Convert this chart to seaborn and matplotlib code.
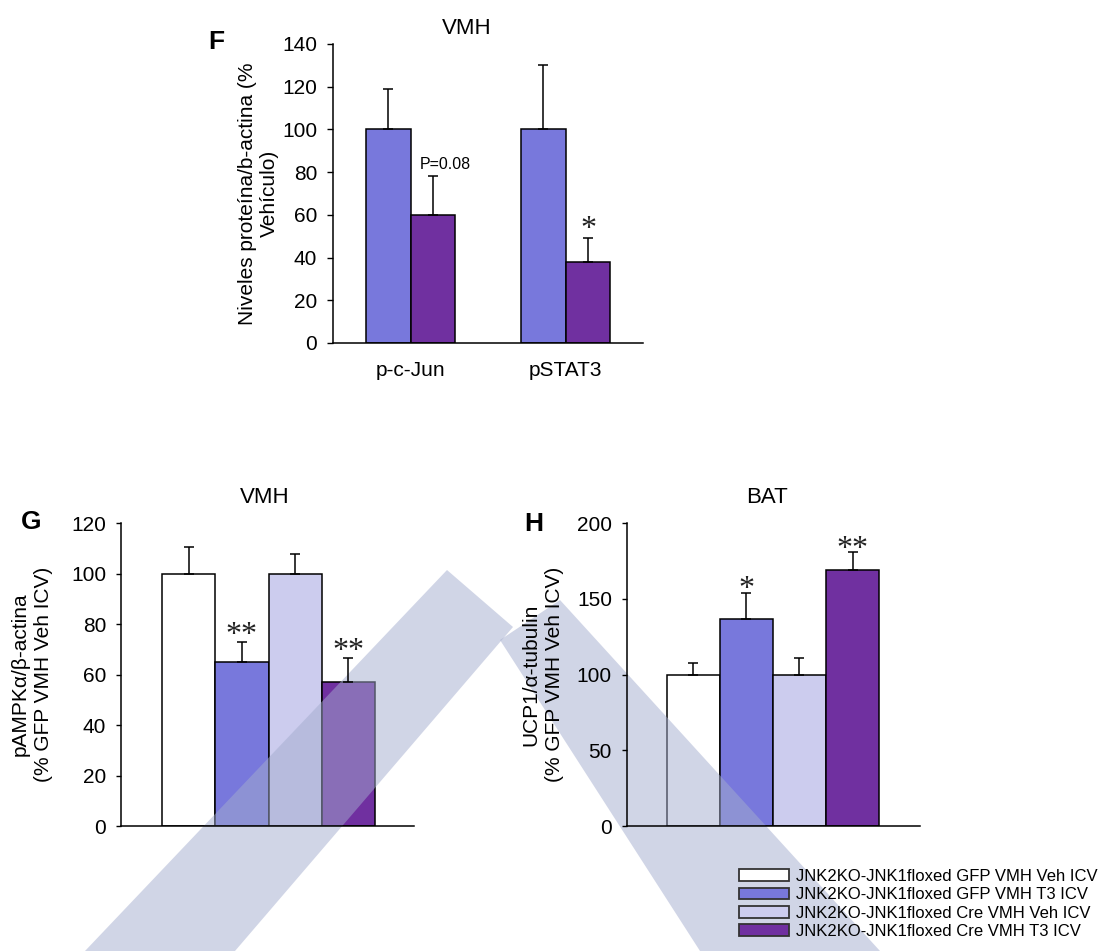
import numpy as np
import pandas as pd
import matplotlib
matplotlib.use("Agg")
import matplotlib.pyplot as plt
import matplotlib.transforms as mtransforms
import seaborn as sns
from matplotlib.patches import Patch, Polygon

sns.set_theme(style="white")
plt.rcParams['font.family'] = ['Liberation Sans', 'DejaVu Sans']
plt.rcParams.update({"text.color": "black", "axes.labelcolor": "black",
                     "xtick.color": "black", "ytick.color": "black",
                     "axes.axisbelow": False})

# ---- data -------------------------------------------------------------
# Panel F: VMH protein levels (% vehicle)
f_targets = ["p-c-Jun", "pSTAT3"]
f_conditions = ["Vehículo", "T3"]
f_veh_mean = [100, 100]
f_veh_err = [19, 30]
f_t3_mean = [60, 38]
f_t3_err = [18, 11]
f_t3_notes = ["P=0.08", "*"]

# Panels G and H: four experimental groups
groups = ["JNK2KO-JNK1floxed GFP VMH Veh ICV",
          "JNK2KO-JNK1floxed GFP VMH T3 ICV",
          "JNK2KO-JNK1floxed Cre VMH Veh ICV",
          "JNK2KO-JNK1floxed Cre VMH T3 ICV"]
g_mean = [100, 65, 100, 57]
g_err = [10.6, 8, 7.8, 9.7]
g_stars = ["", "**", "", "**"]
h_mean = [99.5, 137, 100, 169]
h_err = [8.4, 16.8, 11.2, 11.8]
h_stars = ["", "*", "", "**"]

group_colors = ["#FFFFFF", "#7878DC", "#CCCCEE", "#7030A0"]

# ---- figure -----------------------------------------------------------
W, H = 1104, 951
fig = plt.figure(figsize=(W / 100, H / 100), dpi=100)
px = mtransforms.Affine2D().scale(1 / W, -1 / H).translate(0, 1) + fig.transFigure


def fx(x):
    return x / W


def fy(y):
    return 1 - y / H


def axes_px(left, top, right, bottom):
    return fig.add_axes([fx(left), fy(bottom), (right - left) / W, (bottom - top) / H])


def style_axes(ax, tick_len):
    ax.set_axisbelow(False)
    for side in ("top", "right"):
        ax.spines[side].set_visible(False)
    for side in ("left", "bottom"):
        ax.spines[side].set_color("black")
        ax.spines[side].set_linewidth(1.1)
    ax.tick_params(axis="y", direction="out", length=tick_len, width=1.0,
                   color="black", labelsize=15, pad=7, left=True)
    ax.tick_params(axis="x", length=0, labelsize=15, pad=13)
    ax.set_xlabel("")
    ax.patch.set_alpha(0)


def add_errs(ax, bars, means, errs):
    for bar, m, e in zip(bars, means, errs):
        cx = bar.get_x() + bar.get_width() / 2
        ax.errorbar(cx, m, yerr=[[0], [e]], fmt="none", ecolor="black",
                    elinewidth=1.1, capsize=3.8, capthick=1.1, zorder=4)


def add_notes(ax, bars, means, errs, notes, dy, size=23):
    for bar, m, e, t in zip(bars, means, errs, notes):
        if not t:
            continue
        cx = bar.get_x() + bar.get_width() / 2
        ax.annotate(t, (cx, m + e), xytext=(0, dy), textcoords="offset points",
                    ha="center", va="baseline", fontsize=size,
                    family="Liberation Serif", color="#222222", zorder=5)


def add_watermark(ax, corners):
    # translucent band, above the bars but beneath axis lines and text
    ax.add_patch(Polygon(corners, facecolor="#A3ACCE", edgecolor="none", alpha=0.5,
                         transform=px, zorder=2.2, clip_on=False))


# ---- Panel F ----------------------------------------------------------
axF = axes_px(333, 44, 643, 343)
dfF = pd.DataFrame({
    "target": f_targets * 2,
    "condition": [f_conditions[0]] * 2 + [f_conditions[1]] * 2,
    "value": f_veh_mean + f_t3_mean,
})
sns.barplot(data=dfF, x="target", y="value", hue="condition",
            hue_order=f_conditions, order=f_targets,
            palette=[group_colors[1], group_colors[3]], saturation=1, width=0.58,
            edgecolor="black", linewidth=1.1, errorbar=None, legend=False, ax=axF)
add_errs(axF, axF.containers[0], f_veh_mean, f_veh_err)
add_errs(axF, axF.containers[1], f_t3_mean, f_t3_err)
axF.set_ylim(0, 140)
axF.set_yticks(np.arange(0, 141, 20))
axF.set_xlim(-0.5, 1.5)
style_axes(axF, 4.5)
axF.set_ylabel("Niveles proteína/b-actina (%\nVehículo)", fontsize=15,
               labelpad=2, linespacing=1.2)
bF = list(axF.containers[1])
axF.annotate(f_t3_notes[0], (bF[0].get_x() + bF[0].get_width() / 2, f_t3_mean[0] + f_t3_err[0]),
             xytext=(9, 5.5), textcoords="offset points", ha="center", va="baseline",
             fontsize=11.5, color="black")
add_notes(axF, bF[1:], f_t3_mean[1:], f_t3_err[1:], f_t3_notes[1:], dy=1)
fig.text(fx(467), fy(28), "VMH", ha="center", va="center", fontsize=16)
fig.text(fx(216), fy(42), "F", ha="center", va="center", fontsize=19, fontweight="bold")

# ---- Panel G ----------------------------------------------------------
axG = axes_px(121, 523.3, 414, 826)
dfG = pd.DataFrame({"group": groups, "value": g_mean})
sns.barplot(data=dfG, x="group", y="value", hue="group", order=groups, hue_order=groups,
            palette=group_colors, saturation=1, width=1.0, edgecolor="black", linewidth=1.1,
            errorbar=None, legend=False, ax=axG)
barsG = [c[0] for c in axG.containers] if len(axG.containers) == 4 else list(axG.containers[0])
add_errs(axG, barsG, g_mean, g_err)
add_notes(axG, barsG, g_mean, g_err, g_stars, dy=-1)
axG.set_ylim(0, 120)
axG.set_yticks(np.arange(0, 121, 20))
axG.set_xlim(-1.27, 4.23)
axG.set_xticks([])
style_axes(axG, 3.6)
axG.set_ylabel("pAMPKα/β-actina\n(% GFP VMH Veh ICV)", fontsize=15,
               labelpad=13, linespacing=1.3)
fig.text(fx(265), fy(498), "VMH", ha="center", va="center", fontsize=16)
fig.text(fx(31), fy(522), "G", ha="center", va="center", fontsize=19, fontweight="bold")
add_watermark(axG, [(85, 951), (447, 570), (513, 627), (235, 951)])

# ---- Panel H ----------------------------------------------------------
axH = axes_px(626.7, 523.3, 920, 826)
dfH = pd.DataFrame({"group": groups, "value": h_mean})
sns.barplot(data=dfH, x="group", y="value", hue="group", order=groups, hue_order=groups,
            palette=group_colors, saturation=1, width=1.0, edgecolor="black", linewidth=1.1,
            errorbar=None, legend=False, ax=axH)
barsH = [c[0] for c in axH.containers] if len(axH.containers) == 4 else list(axH.containers[0])
add_errs(axH, barsH, h_mean, h_err)
add_notes(axH, barsH, h_mean, h_err, h_stars, dy=-3)
axH.set_ylim(0, 200)
axH.set_yticks(np.arange(0, 201, 50))
axH.set_xlim(-1.25, 4.27)
axH.set_xticks([])
style_axes(axH, 3.6)
axH.set_ylabel("UCP1/α-tubulin\n(% GFP VMH Veh ICV)", fontsize=15,
               labelpad=9, linespacing=1.3)
fig.text(fx(767), fy(498), "BAT", ha="center", va="center", fontsize=16)
fig.text(fx(534), fy(524), "H", ha="center", va="center", fontsize=19, fontweight="bold")
add_watermark(axH, [(500, 640), (560, 600), (880, 951), (700, 951)])

# ---- legend -----------------------------------------------------------
handles = [Patch(facecolor=c, edgecolor="#333333", linewidth=1.3) for c in group_colors]
fig.legend(handles, groups, loc="upper left", bbox_to_anchor=(fx(739), fy(869)),
           frameon=False, fontsize=12, handlelength=3.0, handleheight=0.72,
           handletextpad=0.42, labelspacing=0.2, borderpad=0, borderaxespad=0)

fig.savefig("out.png", dpi=100, facecolor="white")
